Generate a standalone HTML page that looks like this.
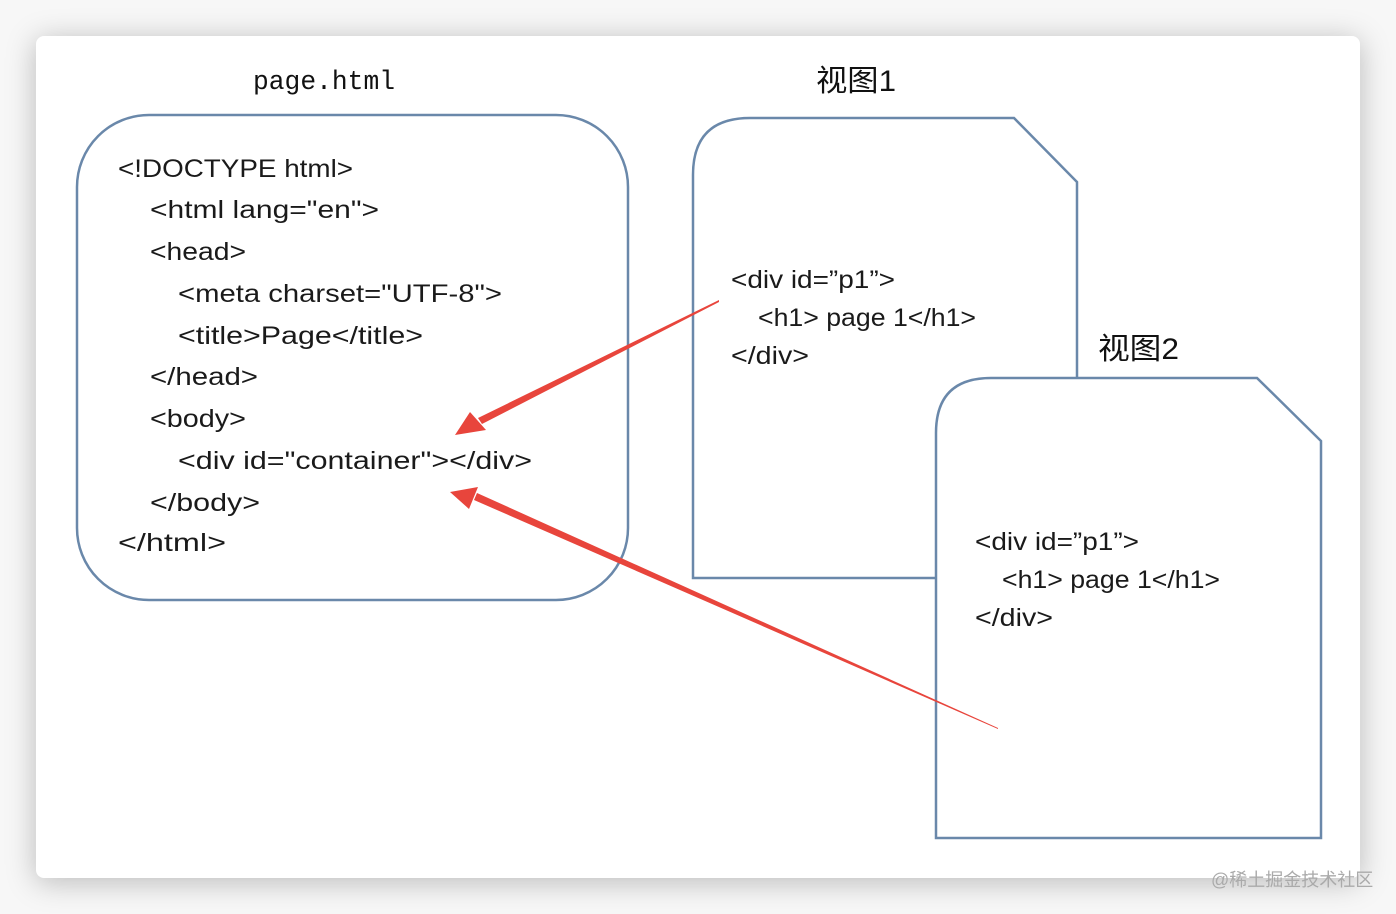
<!DOCTYPE html>
<html><head><meta charset="utf-8"><style>
html,body{margin:0;padding:0;background:#f7f7f7;}
body{width:1396px;height:914px;overflow:hidden;position:relative;}
.card{position:absolute;left:36px;top:36px;width:1324px;height:842px;background:#fff;border-radius:8px;box-shadow:0 4px 30px rgba(0,0,0,0.25);}
svg{position:absolute;left:0;top:0;}
.c{font-family:"Liberation Sans","Noto Sans CJK SC",sans-serif;font-size:25px;fill:#1a1a1a;}
</style></head><body>
<div class="card"></div>
<svg width="1396" height="914" viewBox="0 0 1396 914">
<g fill="#fff" stroke="#6a88aa" stroke-width="2.5">
<rect x="77" y="115" width="551" height="485" rx="72" ry="72"/>
<path d="M693,578 L693,175 Q693,118 750,118 L1014,118 L1077,182 L1077,578 Z"/>
<path d="M936,838 L936,433 Q936,378 991,378 L1257,378 L1321,441 L1321,838 Z"/>
</g>
<text x="253" y="89" textLength="142" lengthAdjust="spacingAndGlyphs" style="font-family:'Liberation Mono',monospace;font-size:27px;fill:#111">page.html</text>
<text x="816" y="91" textLength="80" lengthAdjust="spacingAndGlyphs" style="font-family:'Liberation Sans','Noto Sans CJK SC',sans-serif;font-size:30px;fill:#111">视图1</text>
<text x="1098" y="359" textLength="81" lengthAdjust="spacingAndGlyphs" style="font-family:'Liberation Sans','Noto Sans CJK SC',sans-serif;font-size:30px;fill:#111">视图2</text>
<g class="c">
<text x="118" y="177" textLength="235" lengthAdjust="spacingAndGlyphs">&lt;!DOCTYPE html&gt;</text>
<text x="150" y="218" textLength="229" lengthAdjust="spacingAndGlyphs">&lt;html lang="en"&gt;</text>
<text x="150" y="260" textLength="96" lengthAdjust="spacingAndGlyphs">&lt;head&gt;</text>
<text x="178" y="302" textLength="324" lengthAdjust="spacingAndGlyphs">&lt;meta charset="UTF-8"&gt;</text>
<text x="178" y="344" textLength="245" lengthAdjust="spacingAndGlyphs">&lt;title&gt;Page&lt;/title&gt;</text>
<text x="150" y="385" textLength="108" lengthAdjust="spacingAndGlyphs">&lt;/head&gt;</text>
<text x="150" y="427" textLength="96" lengthAdjust="spacingAndGlyphs">&lt;body&gt;</text>
<text x="178" y="469" textLength="354" lengthAdjust="spacingAndGlyphs">&lt;div id="container"&gt;&lt;/div&gt;</text>
<text x="150" y="511" textLength="110" lengthAdjust="spacingAndGlyphs">&lt;/body&gt;</text>
<text x="118" y="551" textLength="108" lengthAdjust="spacingAndGlyphs">&lt;/html&gt;</text>
<text x="731" y="288" textLength="164" lengthAdjust="spacingAndGlyphs">&lt;div id=”p1”&gt;</text>
<text x="758" y="326" textLength="218" lengthAdjust="spacingAndGlyphs">&lt;h1&gt; page 1&lt;/h1&gt;</text>
<text x="731" y="364" textLength="78" lengthAdjust="spacingAndGlyphs">&lt;/div&gt;</text>
<text x="975" y="550" textLength="164" lengthAdjust="spacingAndGlyphs">&lt;div id=”p1”&gt;</text>
<text x="1002" y="588" textLength="218" lengthAdjust="spacingAndGlyphs">&lt;h1&gt; page 1&lt;/h1&gt;</text>
<text x="975" y="626" textLength="78" lengthAdjust="spacingAndGlyphs">&lt;/div&gt;</text>
</g>
<g fill="#e8453c">
<polygon points="719,300 719,302 482,424 478,418"/>
<polygon points="455,435 470,412 486,430"/>
<polygon points="998,728 998,729 474,500 477,493"/>
<polygon points="450,492 478,487 469,509"/>
</g>
<text x="1211" y="886" font-family="'Liberation Sans','Noto Sans CJK SC',sans-serif" font-size="18" fill="#aaa">@稀土掘金技术社区</text>
</svg>
</body></html>
